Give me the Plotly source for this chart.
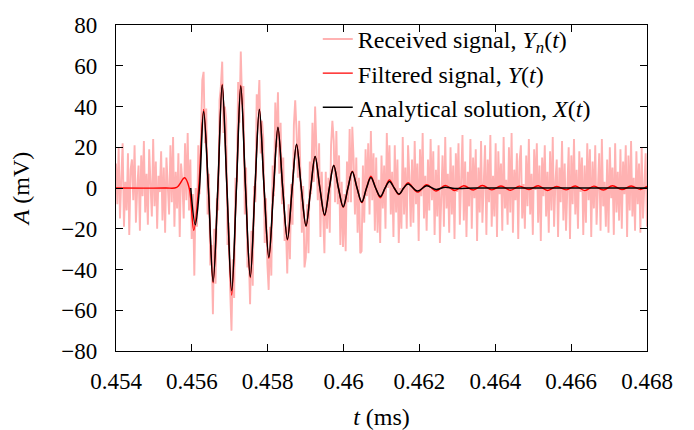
import numpy as np
import plotly.graph_objects as go

# ---------------- data ----------------
t_start = 0.454          # ms, first sample of the received signal
t_step = 0.000035        # ms, sampling step of the received signal

# Received (noisy) signal Y_n(t), mV — one row = 14 samples
received = [
    12, -8, 20, -15, 5, 22, -19, 3, -11, 17, -23, 9, 14, -6,
    21, -17, 0, 11, -21, 16, -4, 23, -12, 7, -18, 19, 2, -14,
    24, -9, 13, -20, 6, -2, 18, -16, 10, -22, 15, 4, -13, 21,
    -7, 25, -19, 8, -10, 17, -24, 12, 3, -15, 22, -6, 27, -11,
    14, -25, -3, -43, 0, -19, 21, -3, 31, 53, 57, 22, 39, -13,
    7, -38, -28, -62, -20, -47, -5, -11, 43, 50, 62, 27, 40, 34,
    -28, -17, -50, -70, -35, -54, 5, 3, 52, 32, 67, 41, 50, -13,
    10, -39, -32, -57, -21, -48, 1, -7, 46, 38, 53, 17, 33, 24,
    -27, -5, -37, -50, -19, -43, 11, -4, 42, 20, 47, 7, 32, -8,
    15, -26, -19, -42, -8, -35, 2, -18, 31, 43, 28, 5, 33, -4,
    -22, 1, -39, -34, -8, -32, 13, -3, 32, 3, 40, 19, -6, 22,
    -24, 8, -19, -32, 8, -20, 5, -22, 21, 33, 23, -7, 28, -8,
    16, -28, 3, -29, -3, -31, 13, -7, 29, -7, 30, 14, -13, 15,
    -22, 5, -32, -31, 11, -17, 19, -4, 22, -13, 28, -6, 17, -21,
    15, -22, 4, -27, 16, -10, 11, -20, 27, 0, 21, -13, 8, -24,
    21, -12, 14, -27, 0, -20, 25, -13, 10, -20, 21, 6, -19, 14,
    -17, 23, -8, 12, -26, 19, -4, 27, -15, 6, -21, 14, -11, 24,
    -6, 18, -23, 9, -14, 21, -27, 3, 16, -19, 25, -10, 7, -22,
    20, -13, 11, -25, 17, -2, 22, -18, 5, 26, -16, 13, -24, 8,
    -9, 24, -20, 15, -5, 19, -26, 10, -12, 23, -17, 1, 21, -23,
    14, -7, 26, -19, 6, -14, 22, -24, 18, -3, 12, -21, 25, -10,
    4, -18, 20, -12, 27, -22, 9, -6, 17, -25, 13, 21, -15, 2,
    -20, 16, -9, 24, -13, 7, -23, 19, -1, 22, -17, 11, -26, 15,
    -4, 21, -14, 8, -22, 18, -11, 25, -19, 3, 14, -24, 10, -7,
    23, -16, 12, -21, 5, 20, -25, 16, -8, 24, -13, 9, -20, 18,
    -2, 15, -23, 11, -17, 22, -6, 19, -24, 13, -10, 21, -18, 6,
    17, -21, 24, -9, 3, -19, 14, -22, 20, -5, 10, -23, 22, -12,
    8, -16, 19, -20, 13, -3, 21, -24, 16, -11, 23, -14, 5, -21,
    18, -8, 12, -22, 20, -15, 7, 17, -19,
]

# Filtered signal Y(t): extrema / zero crossings
filtered_t = [
    0.454, 0.4553, 0.4556, 0.45581, 0.45593, 0.45605, 0.45618,
    0.45631, 0.456435, 0.45656, 0.456685, 0.45680, 0.456925, 0.45705,
    0.457175, 0.45729, 0.457415, 0.45754, 0.457665, 0.45778, 0.457905,
    0.45803, 0.458155, 0.45827, 0.458395, 0.45852, 0.458645, 0.45876,
    0.458885, 0.45901, 0.459135, 0.45925, 0.459375, 0.45950, 0.459625,
    0.45974, 0.459865, 0.45999, 0.460115, 0.46023, 0.460355, 0.46048,
    0.460605, 0.46072, 0.460845, 0.46097, 0.461095, 0.46121, 0.461335,
    0.46146, 0.461585, 0.46170,
    0.46195, 0.46219, 0.46244, 0.46268, 0.46293, 0.46317, 0.46342,
    0.46366, 0.46391, 0.46415, 0.46440, 0.46464, 0.46489, 0.46513,
    0.46538, 0.46562, 0.46587, 0.46611, 0.46636, 0.46660, 0.46685,
    0.46709, 0.46734, 0.46758, 0.46783, 0.468,
]
filtered_A = [
    0, 0, 0.3, 5, 0, -20.7, 0,
    38.5, 0, -46.5, 0, 51, 0, -52.6,
    0, 50.5, 0, -44, 0, 38.5, 0,
    -34.5, 0, 29.5, 0, -25.5, 0, 21.5,
    0, -18.8, 0, 15.5, 0, -13.5, 0,
    11.2, 0, -9.5, 0, 8.2, 0, -7.2,
    0, 5.8, 0, -4.8, 0, 4.0, 0,
    -3.2, 0, 2.6,
    -2.0, 1.6, -1.5, 1.3, -1.2, 1.1, -1.0,
    1.2, -0.9, 1.0, -1.1, 0.9, -0.8, 1.1,
    -1.2, 0.8, -0.9, 1.0, -1.3, 0.9, -1.0,
    1.1, -0.8, 1.0, -0.7, 0.8,
]

# Analytical solution X(t): extrema / zero crossings
analytical_t = [
    0.45597, 0.45609, 0.45620,
    0.45631, 0.456435, 0.45656, 0.456685, 0.45680, 0.456925, 0.45705,
    0.457175, 0.45729, 0.457415, 0.45754, 0.457665, 0.45778, 0.457905,
    0.45803, 0.458155, 0.45827, 0.458395, 0.45852, 0.458645, 0.45876,
    0.458885, 0.45901, 0.459135, 0.45925, 0.459375, 0.45950, 0.459625,
    0.45974, 0.459865, 0.45999, 0.460115, 0.46023, 0.460355, 0.46048,
    0.460605, 0.46072, 0.460845, 0.46097, 0.461095, 0.46121, 0.461335,
    0.46146, 0.461585, 0.46170,
    0.46195, 0.46219, 0.46244, 0.46268, 0.46293, 0.4635, 0.4650, 0.468,
]
analytical_A = [
    0, -18, 0,
    37.5, 0, -46, 0, 50.6, 0, -50.4,
    0, 50.1, 0, -43.5, 0, 38.6, 0,
    -34, 0, 29.8, 0, -25.2, 0, 21.5,
    0, -18.5, 0, 15.5, 0, -13.2, 0,
    11, 0, -9.2, 0, 8, 0, -6.9,
    0, 5.1, 0, -4.2, 0, 3.2, 0,
    -3.0, 0, 2.0,
    -1.5, 1.1, -0.7, 0.4, -0.2, 0, 0, 0,
]

x_ticks = [0.454, 0.456, 0.458, 0.460, 0.462, 0.464, 0.466, 0.468]
x_tick_labels = ["0.454", "0.456", "0.458", "0.46", "0.462", "0.464", "0.466", "0.468"]
y_ticks = [-80, -60, -40, -20, 0, 20, 40, 60, 80]
y_tick_labels = ["\u221280", "\u221260", "\u221240", "\u221220", "0", "20", "40", "60", "80"]

assert len(filtered_t) == len(filtered_A)
assert len(analytical_t) == len(analytical_A)

t_received = t_start + t_step * np.arange(len(received))

# ---------------- figure ----------------
FONT = "Liberation Serif"

fig = go.Figure()
fig.add_trace(go.Scatter(
    x=t_received, y=received, mode="lines",
    line=dict(color="rgb(255,178,178)", width=1.9),
    name="Received signal, <i>Y<sub>n</sub></i>(<i>t</i>)",
))
fig.add_trace(go.Scatter(
    x=filtered_t, y=filtered_A, mode="lines",
    line=dict(color="rgb(255,0,0)", width=1.4, shape="spline", smoothing=1.0),
    name="Filtered signal, <i>Y</i>(<i>t</i>)",
))
fig.add_trace(go.Scatter(
    x=analytical_t, y=analytical_A, mode="lines",
    line=dict(color="black", width=1.5, shape="spline", smoothing=1.0),
    name="Analytical solution, <i>X</i>(<i>t</i>)",
))

axis_common = dict(
    showline=True, linecolor="black", linewidth=1.3, mirror="ticks",
    ticks="inside", ticklen=7, tickwidth=1, tickcolor="black",
    showgrid=False, zeroline=False, automargin=False,
    tickfont=dict(family=FONT, size=23, color="black"),
)

# the page body adds an 8 px offset; the figure is sized to fit the window
fig.update_layout(
    width=686, height=422,
    margin=dict(l=108, r=47, t=9, b=79),
    paper_bgcolor="white", plot_bgcolor="white",
    font=dict(family=FONT, size=23, color="black"),
    showlegend=True,
    legend=dict(
        x=0.38, y=1.025, xanchor="left", yanchor="top",
        bgcolor="rgba(0,0,0,0)", borderwidth=0,
        font=dict(family=FONT, size=24, color="black"),
        tracegroupgap=0, itemwidth=30,
    ),
    xaxis=dict(
        range=[0.454, 0.468], tickvals=x_ticks, ticktext=x_tick_labels,
        ticklabelstandoff=9,
        title=dict(text="<i>t</i> (ms)", font=dict(family=FONT, size=24), standoff=16),
        **axis_common,
    ),
    yaxis=dict(
        range=[-80, 80], tickvals=y_ticks, ticktext=y_tick_labels,
        ticklabelstandoff=13,
        title=dict(text="<i>A</i> (mV)", font=dict(family=FONT, size=24), standoff=24),
        **axis_common,
    ),
)

fig.write_html("out.html")
